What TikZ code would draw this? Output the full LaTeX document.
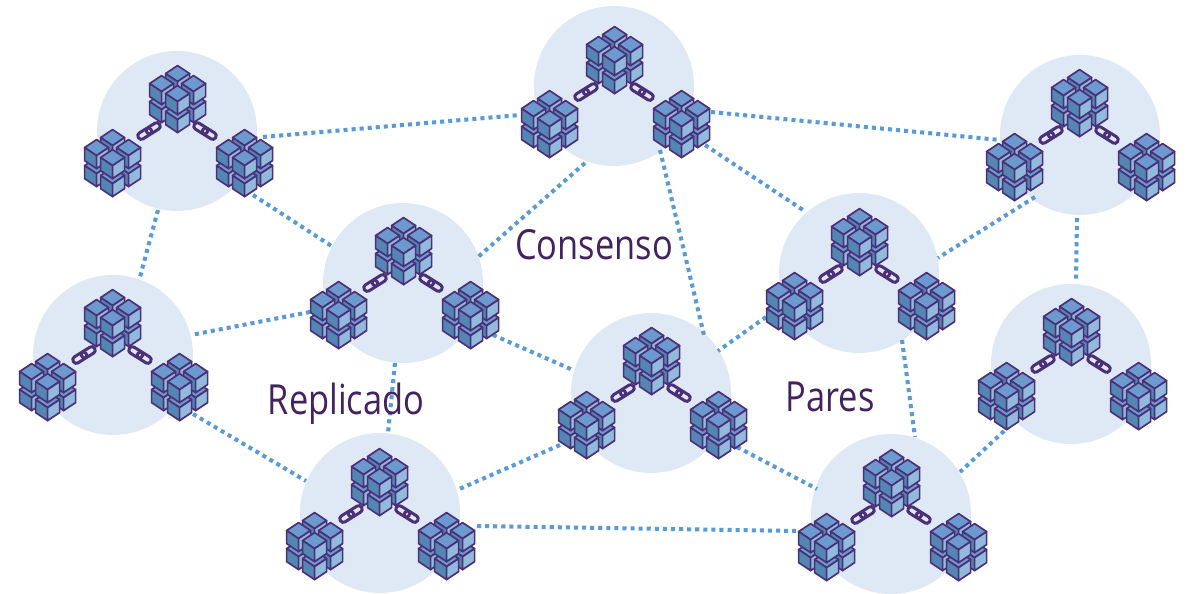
\documentclass[tikz,border=0pt]{standalone}
\usepackage{fontspec}
\setmainfont{Open Sans}
\newfontfamily\labelfont[FakeStretch=0.83]{Open Sans}
\definecolor{disc}{HTML}{DFE9F5}
\definecolor{dots}{HTML}{5B9BD5}
\definecolor{ink}{HTML}{4B3078}
\definecolor{cubetop}{HTML}{6C99CE}
\definecolor{cubeleft}{HTML}{5486B4}
\definecolor{cuberight}{HTML}{92BADD}
\definecolor{textc}{HTML}{44215F}
\tikzset{
  x=0.02cm,y=-0.02cm,
  discnode/.style={circle,fill=disc,draw=none,minimum size=3.2cm,inner sep=0pt},
  dotlink/.style={draw=dots,line width=2.3pt,dash pattern=on 2.3pt off 2.3pt},
  label/.style={font=\labelfont\fontsize{23.6}{25}\selectfont,text=textc,inner sep=0pt},
  cubeface/.style={draw=ink,line width=0.95pt,line join=round},
  chain/.style={draw=ink,line width=1.7pt,rounded corners=1.85pt},
}
% one small cube: #1,#2 = centre of its top face
\newcommand{\onecube}[2]{%
  \fill[cubeface,fill=cubetop] (#1,#2-8) -- (#1+12,#2) -- (#1,#2+8) -- (#1-12,#2) -- cycle;
  \fill[cubeface,fill=cubeleft] (#1-12,#2) -- (#1,#2+8) -- (#1,#2+21) -- (#1-12,#2+13) -- cycle;
  \fill[cubeface,fill=cuberight] (#1+12,#2) -- (#1,#2+8) -- (#1,#2+21) -- (#1+12,#2+13) -- cycle;
}
% a block of eight cubes: #1,#2 = its centre
\newcommand{\block}[2]{%
  \begin{scope}[shift={(#1+0.6,#2+0.6)}]
    \onecube{0}{-7}\onecube{-16}{3}\onecube{16}{3}\onecube{0}{13}
    \onecube{0}{-25}\onecube{-16}{-15}\onecube{16}{-15}\onecube{0}{-5}
  \end{scope}}
% a two-link chain: #1,#2 = midpoint, #3 = rotation
\newcommand{\chainlink}[3]{%
  \begin{scope}[shift={(#1,#2)},rotate=#3]
    \draw[chain] (-12.5,-3.5) rectangle (2.5,3.5);
    \draw[chain] (-2.5,-3.5) rectangle (12.5,3.5);
  \end{scope}}
% a whole cluster, relative to the top block centre #1,#2
\newcommand{\cluster}[2]{%
  \chainlink{#1-28}{#2+33}{32}\chainlink{#1+28}{#2+33}{-32}%
  \block{#1-65}{#2+64}\block{#1+67}{#2+64}\block{#1}{#2}}
\newcommand{\lk}[4]{\draw[dotlink] ([shift={(#2)}]#1.center) -- ([shift={(#4)}]#3.center);}
\begin{document}
\begin{tikzpicture}
\useasboundingbox (0,0) rectangle (1191,594);
\fill[white] (0,0) rectangle (1191,594);
\node[discnode] (A) at (177,131) {};
\node[discnode] (B) at (614,86) {};
\node[discnode] (C) at (1080,135) {};
\node[discnode] (D) at (403,283) {};
\node[discnode] (E) at (859,273) {};
\node[discnode] (F) at (113,355) {};
\node[discnode] (G) at (651,393) {};
\node[discnode] (H) at (1071,364) {};
\node[discnode] (I) at (380,513) {};
\node[discnode] (J) at (891,514) {};
\lk{A}{86,6}{B}{-94,29}
\lk{A}{76,64}{D}{-70,-36}
\lk{A}{-19,79}{F}{27,-78}
\lk{B}{-29,77}{D}{75,-26}
\lk{B}{46,64}{G}{53,-58}
\lk{B}{91,59}{E}{-53,-61}
\lk{B}{97,26}{C}{-80,5}
\lk{C}{-45,62}{E}{79,-15}
\lk{C}{-3,83}{H}{5,-82}
\lk{D}{-93,29}{F}{78,-20}
\lk{D}{90,52}{G}{-78,-23}
\lk{D}{-8,80}{I}{8,-80}
\lk{E}{-93,44}{G}{67,-42}
\lk{E}{43,67}{J}{24,-77}
\lk{F}{80,59}{I}{-74,-32}
\lk{G}{-91,52}{I}{77,-23}
\lk{G}{86,54}{J}{-74,-25}
\lk{H}{-55,56}{J}{69,-42}
\lk{I}{97,13}{J}{-94,17}
\cluster{177}{98}
\cluster{614}{59}
\cluster{1079}{102}
\cluster{403}{250}
\cluster{859}{241}
\cluster{112}{322}
\cluster{651}{360}
\cluster{1071}{331}
\cluster{379}{481}
\cluster{891}{482}
\node[label] (t1) at (594,245) {Consenso};
\node[label] (t2) at (346,404) {Replicado};
\node[label] (t3) at (830,397) {Pares};
\end{tikzpicture}
\end{document}
